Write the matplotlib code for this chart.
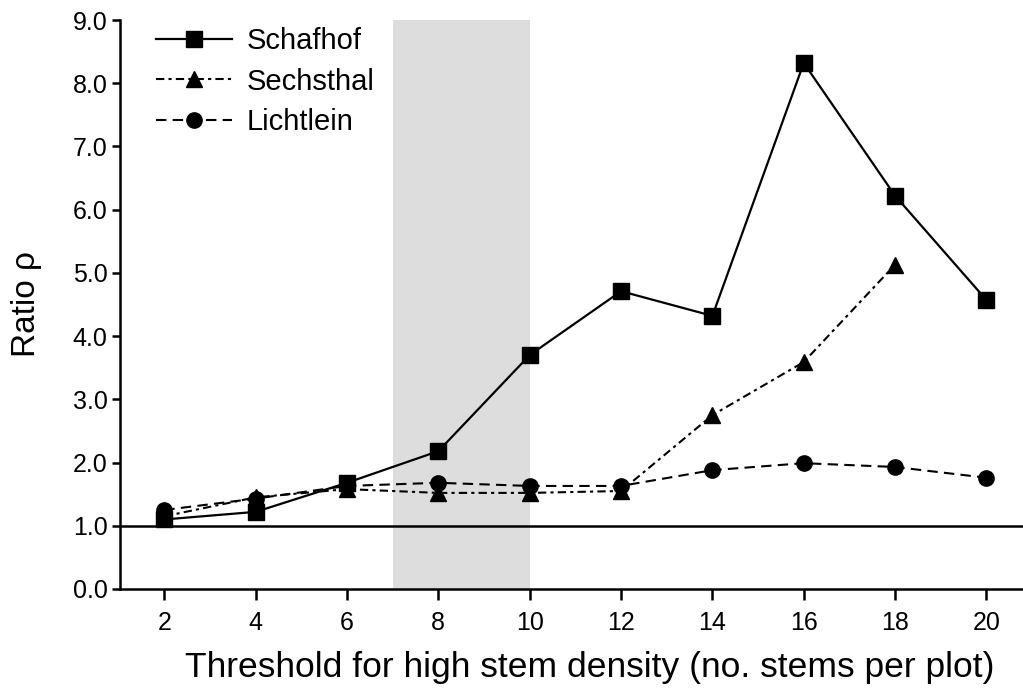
import matplotlib
matplotlib.use("Agg")
import matplotlib.pyplot as plt

thresholds = [2, 4, 6, 8, 10, 12, 14, 16, 18, 20]
schafhof = [1.10, 1.22, 1.68, 2.18, 3.70, 4.71, 4.32, 8.32, 6.22, 4.57]
sechsthal_x = [2, 4, 6, 8, 10, 12, 14, 16, 18]
sechsthal = [1.15, 1.45, 1.58, 1.52, 1.52, 1.55, 2.75, 3.59, 5.13]
lichtlein = [1.25, 1.43, 1.63, 1.68, 1.63, 1.63, 1.88, 1.99, 1.93, 1.76]
shade_range = (7, 10)
yticks = [0, 1, 2, 3, 4, 5, 6, 7, 8, 9]

plt.rcParams['font.family'] = ['Liberation Sans', 'DejaVu Sans']

fig = plt.figure(figsize=(10.23, 6.88), dpi=100)
ax = fig.add_axes([120/1023, 99/688, 1 - 120/1023, (589-20)/688])

ax.axvspan(shade_range[0], shade_range[1], color='#dddddd', zorder=0, lw=0)
ax.axhline(1.0, color='black', lw=1.8, zorder=1)

ax.plot(thresholds, schafhof, color='black', lw=1.6, ls='-', marker='s',
        markersize=11.5, label='Schafhof', zorder=3)
ax.plot(sechsthal_x, sechsthal, color='black', lw=1.5, ls=(0, (4, 2, 1.5, 2)),
        marker='^', markersize=11, label='Sechsthal', zorder=3)
ax.plot(thresholds, lichtlein, color='black', lw=1.5, ls=(0, (5, 3)),
        marker='o', markersize=11, label='Lichtlein', zorder=3)

ax.set_xlim(1.03, 20.8)
ax.set_ylim(0, 9)
ax.set_xticks(thresholds)
ax.set_yticks(yticks)
ax.set_yticklabels([f"{v:.1f}" for v in yticks])
ax.spines['top'].set_visible(False)
ax.spines['right'].set_visible(False)
ax.spines['left'].set_linewidth(1.8)
ax.spines['bottom'].set_linewidth(1.8)
ax.tick_params(axis='x', direction='out', length=8, width=1.8, labelsize=18, pad=8)
ax.tick_params(axis='y', direction='out', length=6, width=1.8, labelsize=18, pad=3)

ax.set_xlabel('Threshold for high stem density (no. stems per plot)', fontsize=25.5, labelpad=11)
ax.xaxis.label.set_x((590 - 120) / (1023 - 120))
ax.set_ylabel('Ratio ρ', fontsize=24, labelpad=22)

leg = ax.legend(loc='upper left', bbox_to_anchor=(136/1023, 1 - 7/688),
                bbox_transform=fig.transFigure, frameon=False,
                fontsize=21, handlelength=2.6, handletextpad=0.5,
                labelspacing=0.42, borderpad=0.2)

fig.savefig('out.png', dpi=100)
